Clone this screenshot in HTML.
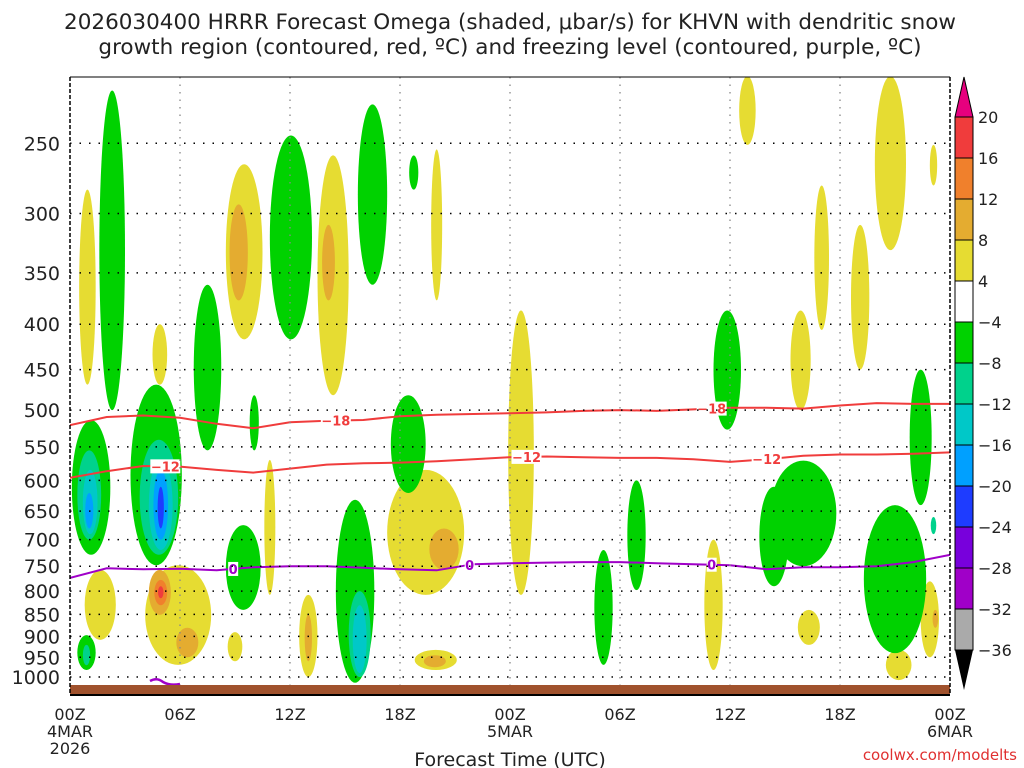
<!DOCTYPE html>
<html><head><meta charset="utf-8"><style>
body{margin:0;background:#fff;width:1024px;height:768px;overflow:hidden;font-family:"DejaVu Sans","Liberation Sans",sans-serif}
svg{display:block}
</style></head><body>
<svg id="c" width="1024" height="768">
<text x="510" y="29" text-anchor="middle" font-size="21.5" fill="#222">2026030400 HRRR Forecast Omega (shaded, μbar/s) for KHVN with dendritic snow</text>
<text x="510" y="54" text-anchor="middle" font-size="21.5" fill="#222">growth region (contoured, red, ºC) and freezing level (contoured, purple, ºC)</text>
<text x="510" y="766" text-anchor="middle" font-size="19" fill="#222">Forecast Time (UTC)</text>
<text x="1017" y="760" text-anchor="end" font-size="15" fill="#e03030">coolwx.com/modelts</text>
</svg>
<script>
const xTicks=["00Z","06Z","12Z","18Z","00Z","06Z","12Z","18Z","00Z"];
const xSub=["4MAR","","","","5MAR","","","","6MAR"];
const pTicks=[250,300,350,400,450,500,550,600,650,700,750,800,850,900,950,1000];
const cbLevels=[20,16,12,8,4,-4,-8,-12,-16,-20,-24,-28,-32,-36];
const cbColors=["#f03c3c","#f0802c","#e4ac30","#e6dc32","#ffffff","#00d200","#00d28c","#00c8c8","#00a0ff","#1e3cff","#7800dc","#a000c8","#aaaaaa"];
// blobs: [hourCenter, halfWidthHours, pTop, pBottom, value]
const blobsPos=[
[0.95,0.45,282,468,6],[1.65,0.85,757,908,6],[5.9,1.8,748,969,6],[6.4,0.6,880,950,10],[4.9,0.6,757,851,10],[4.95,0.35,777,830,14],[4.95,0.15,790,815,18],
[9.5,1.0,264,416,6],[9.2,0.5,293,376,10],[14.35,0.85,258,481,6],[14.1,0.35,309,376,10],[10.9,0.3,569,808,6],[13.0,0.5,808,1000,6],[13.0,0.2,850,960,10],
[19.4,2.1,584,808,6],[20.4,0.8,680,757,10],[19.95,1.15,932,982,6],[19.9,0.6,945,975,10],[24.6,0.7,386,808,6],[20.0,0.3,254,376,6],[35.1,0.5,700,982,6],
[36.95,0.45,210,251,6],[39.85,0.55,386,500,6],[41.0,0.4,279,406,6],[43.1,0.5,309,450,6],[44.75,0.85,210,330,6],[45.2,0.7,932,1008,6],[46.9,0.5,780,950,6],
[4.9,0.4,400,468,6],[47.1,0.2,251,279,6],[40.3,0.6,840,920,6],[9.0,0.4,890,960,6],[47.2,0.15,840,880,10]];
const blobsNeg=[
[2.3,0.7,218,500,-6],[1.15,1.05,513,728,-6],[1.05,0.65,555,700,-10],[1.1,0.4,584,690,-14],[1.05,0.22,620,680,-18],
[4.7,1.4,468,748,-6],[4.85,1.05,540,728,-10],[4.95,0.65,569,719,-14],[4.95,0.4,584,700,-18],[4.95,0.17,610,680,-22],
[7.5,0.75,361,555,-6],[9.45,0.95,674,840,-6],[12.05,1.15,245,416,-6],[15.55,1.05,631,1015,-6],[15.8,0.6,800,1000,-10],[15.8,0.38,830,990,-14],
[16.5,0.8,226,361,-6],[18.45,0.95,481,620,-6],[29.1,0.5,719,969,-6],[30.9,0.5,600,798,-6],[35.85,0.75,386,526,-6],[40.0,1.8,570,750,-6],[38.4,0.8,610,790,-6],
[45.0,1.7,640,940,-6],[46.4,0.6,450,640,-6],[0.9,0.5,897,982,-6],[0.9,0.2,920,970,-10],[18.75,0.25,258,282,-6],[10.05,0.25,481,555,-6],[47.1,0.15,660,690,-10]];
const cHours=[0,2,4,6,8,10,12,14,16,18,20,22,24,26,28,30,32,34,36,38,40,42,44,46,48];
const cM18=[520,509,507,510,518,524,516,514,513,508,506,505,504,503,501,500,501,499,497,497,498,494,491,492,492];
const cM12=[596,586,578,579,584,588,582,576,574,573,571,568,565,564,565,566,566,568,572,568,563,561,561,560,558];
const cZero=[773,754,756,755,758,752,750,750,753,756,758,746,744,743,742,742,744,746,748,756,752,752,750,742,728];
const lblM18=[14.5,35.0],lblM12=[5.2,24.9,38.0],lblZero=[8.9,21.8,35.0];

const NS="http://www.w3.org/2000/svg",svg=document.getElementById('c');
const X0=70,X1=950,Y0=77,YB=695;
const xs=h=>X0+(X1-X0)*h/48;
const ys=p=>677-385*Math.log(1000/p);
function mk(t,a,parent){const e=document.createElementNS(NS,t);for(const k in a)e.setAttribute(k,a[k]);(parent||svg).appendChild(e);return e;}
function colorFor(v){if(v>20)return"#e6007e";if(v<-36)return"#000";for(let i=0;i<cbLevels.length-1;i++){if(v<=cbLevels[i]&&v>cbLevels[i+1])return cbColors[i];}return"#fff";}
const clip=mk('clipPath',{id:'pc'});mk('rect',{x:X0,y:Y0,width:X1-X0,height:YB-Y0},clip);
const g=mk('g',{'clip-path':'url(#pc)'});
blobsPos.concat(blobsNeg).forEach(b=>{
 const yt=ys(b[2]),yb=ys(b[3]);
 const e=mk('ellipse',{cx:xs(b[0]),cy:(yt+yb)/2,rx:(xs(b[1])-X0),ry:(yb-yt)/2,fill:colorFor(b[4])},g);
 
 
});
// grid
pTicks.forEach(p=>{const l=mk('line',{x1:X0,x2:X1,y1:ys(p),y2:ys(p),stroke:'#000','stroke-dasharray':'1.5 8','stroke-width':1.5});

const t=mk('text',{x:60,y:ys(p)+7,'text-anchor':'end','font-size':19,fill:'#222'});t.textContent=p;
});
xTicks.forEach((s,i)=>{const x=xs(i*6);
if(i>0&&i<8){const l=mk('line',{x1:x,x2:x,y1:Y0,y2:YB,stroke:'#888','stroke-dasharray':'1.5 6','stroke-width':1.3});
}
const t=mk('text',{x:x,y:720,'text-anchor':'middle','font-size':16,fill:'#222'});t.textContent=s;

if(xSub[i]){const t2=mk('text',{x:x,y:737,'text-anchor':'middle','font-size':16,fill:'#222'});t2.textContent=xSub[i];
}});
const yr=mk('text',{x:X0,y:754,'text-anchor':'middle','font-size':16,fill:'#222'});yr.textContent="2026";

// contours
function contour(arr,col,name,lbls,txt){
 const d=arr.map((p,i)=>(i?'L':'M')+xs(cHours[i]).toFixed(1)+','+ys(p).toFixed(1)).join('');
 const pth=mk('path',{d:d,fill:'none',stroke:col,'stroke-width':2},g);
 
 lbls.forEach(h=>{let i=Math.min(23,Math.floor(h/2));const f=(h-cHours[i])/2;const p=arr[i]+(arr[i+1]-arr[i])*f;
 const x=xs(h),y=ys(p);mk('rect',{x:x-(txt.length*5),y:y-7,width:txt.length*10,height:14,fill:'#fff'},g);
 const t=mk('text',{x:x,y:y+5,'text-anchor':'middle','font-size':13,'font-weight':'bold',fill:col},g);t.textContent=txt.replace('-','−');
 });
}
contour(cM18,'#f03c3c','contour-minus18',lblM18,'-18');
contour(cM12,'#f03c3c','contour-minus12',lblM12,'-12');
contour(cZero,'#a000c8','freezing-level-contour',lblZero,'0');
mk('path',{d:'M150,681 Q157,677 163,682 Q170,686 180,684',fill:'none',stroke:'#a000c8','stroke-width':2.5});
// ground
const gr=mk('rect',{x:X0,y:685,width:X1-X0,height:9,fill:'#a0522d'});
// frame
mk('line',{x1:X0,x2:X1,y1:Y0,y2:Y0,stroke:'#000','stroke-width':1});
mk('line',{x1:X0,x2:X0,y1:Y0,y2:YB,stroke:'#000','stroke-width':1.5,'stroke-dasharray':'4 2'});
mk('line',{x1:X1,x2:X1,y1:Y0,y2:YB,stroke:'#000','stroke-width':1.5,'stroke-dasharray':'4 2'});
mk('line',{x1:X0,x2:X1,y1:YB,y2:YB,stroke:'#000','stroke-width':2});
// colorbar
const cbX=955,cbW=18,cbTop=117,cbStep=(650-117)/13;
const tu=mk('polygon',{points:`${cbX},${cbTop} ${cbX+cbW},${cbTop} ${cbX+cbW/2},77`,fill:'#e6007e',stroke:'#000'});

cbColors.forEach((c,i)=>{const r=mk('rect',{x:cbX,y:cbTop+i*cbStep,width:cbW,height:cbStep,fill:c,stroke:'#000','stroke-width':1});
});
const td=mk('polygon',{points:`${cbX},650 ${cbX+cbW},650 ${cbX+cbW/2},690`,fill:'#000'});

cbLevels.forEach((v,i)=>{const t=mk('text',{x:978,y:cbTop+i*cbStep+6,'font-size':16,fill:'#222'});t.textContent=v<0?'−'+(-v):v;
});
</script>
</body></html>
